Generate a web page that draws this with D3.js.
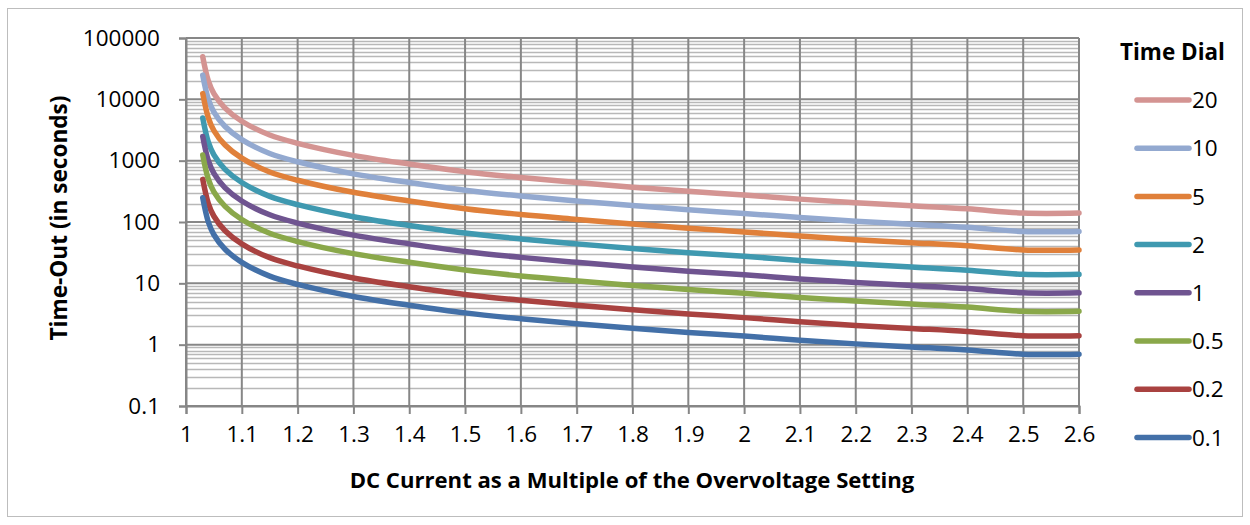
<!DOCTYPE html>
<html>
<head>
<meta charset="utf-8">
<script src="https://cdn.jsdelivr.net/npm/d3@7"></script>
<style>
  body { margin: 0; background: #fff; }
  svg { display: block; font-family: "Open Sans", Lato, sans-serif; }
</style>
</head>
<body>
<div id="chart"></div>
<script>
// x values (multiple of overvoltage setting)
var xVals = [1.03, 1.04, 1.05, 1.07, 1.1, 1.15, 1.2, 1.3, 1.4, 1.5, 1.6, 1.7, 1.8, 1.9, 2.0, 2.1, 2.2, 2.3, 2.4, 2.5, 2.6];

// time-out (s) per time dial
var td01 = [248, 100, 62, 36, 22, 13.1, 9.6, 6.1, 4.4, 3.3, 2.65, 2.2, 1.85, 1.58, 1.38, 1.18, 1.03, 0.92, 0.82, 0.7, 0.7];
var td02 = [496, 200, 124, 72, 44, 26.2, 19.2, 12.2, 8.8, 6.6, 5.3, 4.4, 3.7, 3.16, 2.76, 2.36, 2.06, 1.84, 1.64, 1.4, 1.4];
var td05 = [1240, 500, 310, 180, 110, 65.5, 48, 30.5, 22, 16.5, 13.2, 11, 9.25, 7.9, 6.9, 5.9, 5.15, 4.6, 4.1, 3.5, 3.5];
var td1  = [2480, 1000, 620, 360, 220, 131, 96, 61, 44, 33, 26.5, 22, 18.5, 15.8, 13.8, 11.8, 10.3, 9.2, 8.2, 7, 7];
var td2  = [4960, 2000, 1240, 720, 440, 262, 192, 122, 88, 66, 53, 44, 37, 31.6, 27.6, 23.6, 20.6, 18.4, 16.4, 14, 14];
var td5  = [12400, 5000, 3100, 1800, 1100, 655, 480, 305, 220, 165, 132, 110, 92.5, 79, 69, 59, 51.5, 46, 41, 35, 35];
var td10 = [24800, 10000, 6200, 3600, 2200, 1310, 960, 610, 440, 330, 265, 220, 185, 158, 138, 118, 103, 92, 82, 70, 70];
var td20 = [49600, 20000, 12400, 7200, 4400, 2620, 1920, 1220, 880, 660, 530, 440, 370, 316, 276, 236, 206, 184, 164, 140, 140];

var seriesNames = ["20", "10", "5", "2", "1", "0.5", "0.2", "0.1"];
var seriesData = [td20, td10, td5, td2, td1, td05, td02, td01];
var seriesColors = ["#d49492", "#93a9d0", "#e0803a", "#3f99b0", "#6f5490", "#8aa84a", "#a94240", "#4370a8"];

var yTicks = [0.1, 1, 10, 100, 1000, 10000, 100000];
var xTicks = [1, 1.1, 1.2, 1.3, 1.4, 1.5, 1.6, 1.7, 1.8, 1.9, 2, 2.1, 2.2, 2.3, 2.4, 2.5, 2.6];

var W = 1250, H = 525;
var svg = d3.select("#chart").append("svg").attr("width", W).attr("height", H);

// outer chart border
svg.append("rect").attr("x", 7.5).attr("y", 8.5).attr("width", 1235).attr("height", 508)
    .attr("fill", "#fff").attr("stroke", "#bdbdbd").attr("stroke-width", 1);

var x = d3.scaleLinear().domain([1, 2.6]).range([186, 1079]);
var y = d3.scaleLog().domain([0.1, 100000]).range([406, 38]);

// minor horizontal gridlines
var minor = [];
yTicks.slice(0, -1).forEach(function (d) {
    for (var k = 2; k <= 9; k++) minor.push(d * k);
});
var grid = svg.append("g");
grid.selectAll("line.minor").data(minor).enter().append("line")
    .attr("x1", x(1)).attr("x2", x(2.6))
    .attr("y1", function (d) { return Math.round(y(d)) + 0.5; })
    .attr("y2", function (d) { return Math.round(y(d)) + 0.5; })
    .attr("stroke", "#b8b8b8").attr("stroke-width", 1.6);

// major gridlines
grid.selectAll("line.hmaj").data(yTicks).enter().append("line")
    .attr("x1", x(1)).attr("x2", x(2.6))
    .attr("y1", function (d) { return y(d); }).attr("y2", function (d) { return y(d); })
    .attr("stroke", "#878787").attr("stroke-width", 2);
grid.selectAll("line.vmaj").data(xTicks).enter().append("line")
    .attr("x1", function (d) { return x(d); }).attr("x2", function (d) { return x(d); })
    .attr("y1", y(100000)).attr("y2", y(0.1))
    .attr("stroke", "#878787").attr("stroke-width", 2);

// axes
var yAxis = d3.axisLeft(y).tickValues(yTicks).tickSize(7).tickPadding(19)
    .tickFormat(function (d) { return d < 1 ? "0.1" : d3.format("d")(d); });
var gy = svg.append("g").attr("transform", "translate(" + x(1) + ",0)").call(yAxis);
var xAxis = d3.axisBottom(x).tickValues(xTicks).tickSize(8).tickPadding(12)
    .tickFormat(function (d) { return String(d); });
var gx = svg.append("g").attr("transform", "translate(0," + y(0.1) + ")").call(xAxis);
[gx, gy].forEach(function (g) {
    g.select(".domain").attr("stroke", "#868686").attr("stroke-width", 2);
    g.selectAll(".tick line").attr("stroke", "#868686").attr("stroke-width", 2);
    g.selectAll("text").attr("font-family", "'Open Sans', sans-serif").attr("font-size", 22.5).attr("fill", "#000");
});

// series lines
var line = d3.line()
    .x(function (d) { return x(d[0]); })
    .y(function (d) { return y(d[1]); })
    .curve(d3.curveCatmullRom.alpha(0.5));
seriesData.forEach(function (vals, i) {
    var pts = xVals.map(function (xv, j) { return [xv, vals[j]]; });
    svg.append("path").datum(pts)
        .attr("d", line)
        .attr("fill", "none")
        .attr("stroke", seriesColors[i])
        .attr("stroke-width", 5.5)
        .attr("stroke-linecap", "round")
        .attr("stroke-linejoin", "round");
});

// fit bold title text to the width it has in the original
function fitText(sel, target) {
    var w = sel.node().getComputedTextLength();
    var fs = parseFloat(sel.attr("font-size"));
    sel.attr("font-size", (fs * target / w).toFixed(2));
}

// axis titles
var xt = svg.append("text").attr("x", 632).attr("y", 488).attr("text-anchor", "middle")
    .attr("font-size", 20).attr("font-weight", "bold").text("DC Current as a Multiple of the Overvoltage Setting");
fitText(xt, 565);
var yt = svg.append("text").attr("transform", "translate(67,218) rotate(-90)").attr("text-anchor", "middle")
    .attr("font-size", 20).attr("font-weight", "bold").text("Time-Out (in seconds)");
fitText(yt, 245);

// legend
var lt = svg.append("text").attr("x", 1120).attr("y", 60).attr("font-size", 20).attr("font-weight", "bold").text("Time Dial");
fitText(lt, 105);
var leg = svg.append("g");
seriesNames.forEach(function (name, i) {
    var ly = 100 + i * 48.2;
    leg.append("line").attr("x1", 1137).attr("x2", 1189).attr("y1", ly).attr("y2", ly)
        .attr("stroke", seriesColors[i]).attr("stroke-width", 5.5).attr("stroke-linecap", "round");
    leg.append("text").attr("x", 1192).attr("y", ly).attr("dy", "0.36em")
        .attr("font-size", 22.5).text(name);
});
</script>
</body>
</html>
